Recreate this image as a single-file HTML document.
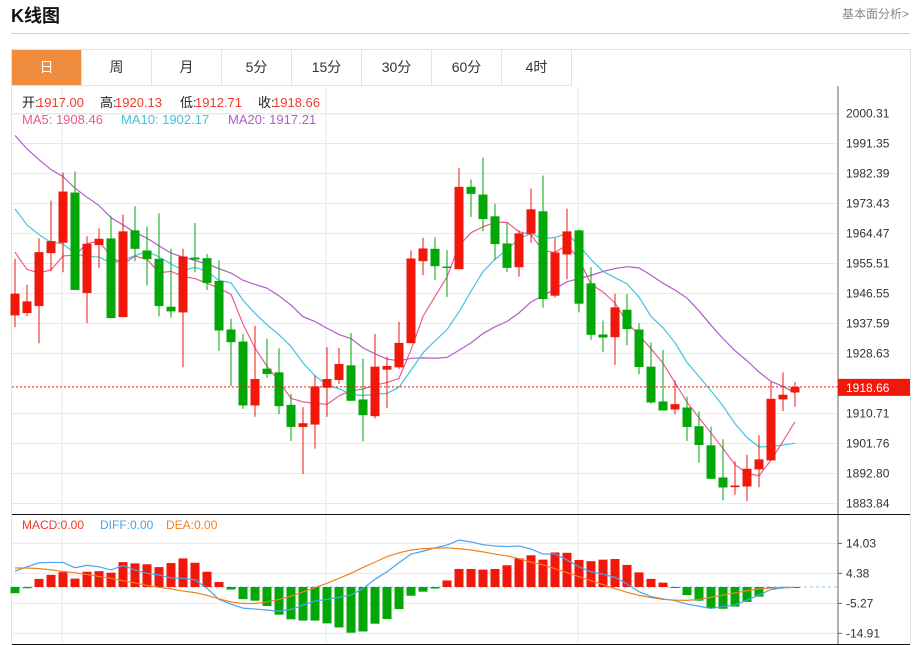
<!DOCTYPE html>
<html><head><meta charset="utf-8">
<style>
body{margin:0;width:917px;height:645px;background:#fff;overflow:hidden;font-family:"Liberation Sans","Noto Sans CJK SC",sans-serif;position:relative}
.title{position:absolute;left:11px;top:2px;font-size:18px;font-weight:bold;color:#111}
.more{position:absolute;right:8px;top:5px;font-size:12px;color:#888}
.hr{position:absolute;left:11px;top:33px;width:899px;height:1px;background:#d0d0d0}
.box{position:absolute;left:11px;top:49px;width:898px;height:595px;border:1px solid #dde3ea;border-bottom:none}
.tabs{position:absolute;left:12px;top:50px;height:35px;display:flex}
.tab{width:69px;height:35px;border-right:1px solid #dde3ea;border-bottom:1px solid #dde3ea;text-align:center;line-height:35px;font-size:14px;color:#333}
.tab.on{background:#f08c3e;color:#fff}
svg{position:absolute;left:0;top:0}
</style></head><body>
<div class="title">K线图</div>
<div class="more">基本面分析&gt;</div>
<div class="hr"></div>
<div class="box"></div>
<div class="tabs">
<div class="tab on">日</div>
<div class="tab">周</div>
<div class="tab">月</div>
<div class="tab">5分</div>
<div class="tab">15分</div>
<div class="tab">30分</div>
<div class="tab">60分</div>
<div class="tab">4时</div>
</div>
<svg id="c" width="917" height="645"></svg>
<script>
const opens=[1940.0,1940.7,1942.8,1958.6,1961.7,1976.7,1946.7,1961.0,1963.0,1939.5,1965.4,1959.4,1956.9,1942.6,1940.9,1957.3,1957.1,1950.3,1935.8,1932.2,1913.1,1924.1,1923.0,1913.3,1906.7,1907.4,1918.4,1920.7,1925.1,1914.9,1909.9,1923.8,1924.5,1931.7,1956.2,1959.9,1954.6,1953.8,1978.4,1976.1,1969.6,1961.5,1954.4,1964.4,1971.1,1945.9,1958.2,1965.4,1949.6,1934.3,1933.5,1941.7,1935.8,1924.7,1914.3,1911.9,1912.5,1906.9,1901.2,1891.6,1888.7,1888.9,1894.0,1896.7,1914.9,1917.0];
const highs=[1956.9,1949.2,1963.1,1974.3,1982.7,1983.0,1963.6,1966.0,1969.6,1970.1,1972.6,1966.6,1970.5,1959.9,1959.9,1967.6,1958.4,1956.4,1939.0,1934.5,1936.9,1933.0,1930.2,1916.6,1912.6,1922.1,1930.5,1930.3,1934.7,1927.1,1934.5,1927.7,1938.1,1959.4,1963.2,1963.3,1959.5,1984.1,1980.6,1987.1,1973.4,1967.6,1965.4,1977.9,1981.8,1963.1,1971.9,1965.7,1954.4,1938.5,1946.5,1946.4,1937.7,1931.9,1929.7,1920.6,1915.8,1911.3,1906.8,1903.0,1896.4,1898.4,1904.2,1920.1,1923.0,1920.13];
const lows=[1936.5,1939.8,1931.7,1953.2,1952.9,1947.6,1937.7,1954.1,1939.2,1939.5,1956.2,1948.9,1939.7,1939.3,1924.5,1952.9,1947.6,1929.4,1918.9,1912.1,1909.7,1921.3,1910.5,1902.5,1892.6,1900.2,1909.7,1919.5,1914.5,1902.3,1909.2,1912.3,1924.0,1931.7,1952.0,1950.6,1945.5,1953.8,1969.4,1965.1,1956.6,1953.0,1951.6,1961.7,1942.3,1945.3,1950.8,1940.9,1932.7,1929.1,1925.2,1931.1,1922.4,1913.6,1911.6,1910.4,1902.5,1896.0,1891.2,1884.7,1886.4,1884.5,1888.7,1896.7,1911.4,1912.71];
const closes=[1946.5,1944.2,1958.9,1962.2,1977.0,1947.6,1961.4,1962.9,1939.2,1965.1,1959.9,1956.8,1942.8,1941.2,1957.6,1956.7,1949.7,1935.5,1932.0,1913.1,1921.0,1922.5,1912.9,1906.7,1907.8,1918.8,1921.0,1925.5,1914.5,1910.2,1924.7,1924.9,1931.8,1957.0,1960.0,1954.7,1954.2,1978.4,1976.3,1968.8,1961.3,1954.2,1964.5,1971.7,1944.9,1958.8,1965.1,1943.5,1934.2,1933.4,1942.4,1935.9,1924.6,1914.0,1911.6,1913.5,1906.7,1901.3,1891.2,1888.6,1889.2,1894.2,1897.0,1915.1,1916.3,1918.66];
const priorCloses=[2025,2023,2021,2019,2017,2015,2013,2011,2009,2004,1992,1988,1985,1981,1977.5,1970,1964,1958,1956];
const macdBars=[-2.0,-0.4,2.6,3.9,4.8,2.7,4.9,5.1,4.6,8.0,7.6,7.3,6.4,7.7,9.2,7.8,4.9,1.6,-0.8,-3.9,-4.4,-6.1,-8.9,-10.4,-10.8,-10.8,-11.7,-13.0,-14.7,-14.3,-11.8,-10.3,-7.1,-2.8,-1.5,-0.5,2.1,5.8,5.8,5.6,5.8,7.0,9.2,10.2,8.8,11.1,11.0,8.7,8.3,8.8,9.0,7.1,4.7,2.6,1.4,-0.1,-2.6,-4.4,-6.9,-7.0,-6.3,-4.8,-3.1,-0.5,-0.1,0];
const diffVals=[5.1,6.5,7.8,7.9,7.9,6.2,7.0,6.5,5.5,6.9,5.5,4.4,3.9,2.9,2.8,2.3,-0.4,-4.0,-5.5,-6.8,-7.1,-7.4,-7.8,-7.2,-5.8,-4.5,-4.0,-3.3,-2.6,-0.5,2.5,4.9,7.8,10.6,11.5,12.6,13.5,15.1,14.5,13.6,13.2,13.0,13.2,12.2,10.6,10.6,8.7,6.5,4.9,4.1,3.1,1.0,-1.5,-3.1,-3.8,-4.4,-5.5,-6.2,-6.9,-6.3,-5.8,-4.2,-2.6,-0.8,-0.3,-0.1];
const deaVals=[6.1,6.1,5.9,5.5,5.0,4.6,4.0,3.4,2.8,2.0,1.3,0.5,-0.1,-0.6,-1.3,-1.8,-2.7,-3.8,-4.8,-5.3,-5.3,-4.8,-4.0,-2.9,-1.6,-0.2,1.2,2.8,4.4,6.3,8.0,9.8,11.0,11.9,12.3,12.5,12.6,12.3,11.9,11.3,10.6,10.0,9.1,8.0,7.1,5.9,4.6,3.3,2.0,0.8,-0.5,-1.7,-2.7,-3.4,-4.0,-4.2,-4.3,-4.0,-3.3,-2.6,-1.9,-1.2,-0.6,-0.3,-0.1,-0.1];
const priceTicks=[2000.31,1991.35,1982.39,1973.43,1964.47,1955.51,1946.55,1937.59,1928.63,1919.67,1910.71,1901.76,1892.80,1883.84];
const macdTicks=[14.03,4.38,-5.27,-14.91];

const svg=document.getElementById('c');
const NS='http://www.w3.org/2000/svg';
function mk(t,a,p){const e=document.createElementNS(NS,t);for(const k in a)e.setAttribute(k,a[k]);(p||svg).appendChild(e);return e;}
const X=i=>15+12*i;
const Y=p=>113.5+(2000.31-p)*3.348;
const MY=v=>587-v*3.109;
const RED='#f2170b',GREEN='#03a707';

const grid=mk('g',{});


priceTicks.forEach(t=>{if(t!==1919.67)mk('line',{x1:12,x2:838,y1:Y(t),y2:Y(t),stroke:'#e3eaf1'},grid);});
macdTicks.forEach(t=>mk('line',{x1:12,x2:838,y1:MY(t),y2:MY(t),stroke:'#e3eaf1'},grid));
mk('line',{x1:12,x2:838,y1:114,y2:114,stroke:'#e3eaf1'},grid);
[62,326,578].forEach(x=>mk('line',{x1:x,x2:x,y1:86,y2:644,stroke:'#e3eaf1'},grid));
mk('line',{x1:838,x2:838,y1:86,y2:644,stroke:'#666'});
mk('line',{x1:12,x2:910,y1:514.5,y2:514.5,stroke:'#111'});
mk('line',{x1:12,x2:910,y1:644.5,y2:644.5,stroke:'#111'});

priceTicks.forEach(t=>{if(t===1919.67)return;
 const tx=mk('text',{x:846,y:Y(t)+4,'font-size':12,fill:'#333'});
 
 
 tx.textContent=t.toFixed(2);});
macdTicks.forEach(t=>{
 const tx=mk('text',{x:846,y:MY(t)+4,'font-size':12,fill:'#333'});
 
 
 tx.textContent=t.toFixed(2);
 mk('line',{x1:838,x2:842,y1:MY(t),y2:MY(t),stroke:'#666'});});

function ma(n){const all=priorCloses.concat(closes);return closes.map((c,i)=>{const j=i+priorCloses.length;let s=0;for(let k=j-n+1;k<=j;k++)s+=all[k];return s/n;});}
[[20,'#b15ccb'],[10,'#3ec6da'],[5,'#ef5a8c']].forEach(([n,col])=>{
 const v=ma(n);const l=mk('polyline',{points:v.map((p,i)=>X(i)+','+Y(p)).join(' '),fill:'none',stroke:col,'stroke-width':1.2});
 
 });

closes.forEach((c,i)=>{const o=opens[i],up=c>=o,col=up?RED:GREEN;
 const g=mk('g',{});
 
 
 mk('line',{x1:X(i),x2:X(i),y1:Y(highs[i]),y2:Y(lows[i]),stroke:col,'stroke-width':1},g);
 const t=Y(Math.max(o,c)),b=Y(Math.min(o,c));
 mk('rect',{x:X(i)-4.5,y:t,width:9,height:Math.max(1.5,b-t),fill:col},g);});

const last=closes[closes.length-1];
mk('line',{x1:12,x2:838,y1:Y(last),y2:Y(last),stroke:RED,'stroke-dasharray':'2,2'});
const tag=mk('rect',{x:838,y:Y(last)-8,width:72,height:17,fill:RED});


const tt=mk('text',{x:846,y:Y(last)+5,'font-size':12,fill:'#fff'});


tt.textContent=last.toFixed(2);

mk('line',{x1:12,x2:838,y1:MY(0),y2:MY(0),stroke:'#8cc8ee','stroke-dasharray':'3,3'});
macdBars.forEach((v,i)=>{const r=mk('rect',{x:X(i)-4.5,y:Math.min(MY(v),MY(0)),width:9,height:Math.max(1,Math.abs(MY(v)-MY(0))),fill:v>=0?RED:GREEN});
 
 });
const dl=mk('polyline',{points:diffVals.map((v,i)=>X(i)+','+MY(v)).join(' '),fill:'none',stroke:'#4aa3ea','stroke-width':1.2});


const el=mk('polyline',{points:deaVals.map((v,i)=>X(i)+','+MY(v)).join(' '),fill:'none',stroke:'#f2821f','stroke-width':1.2});



function txt(x,y,s,col,size,name){const t=mk('text',{x:x,y:y,'font-size':size,fill:col});t.textContent=s;return t;}
const ohlc=[['开:',1917.00,22],['高:',1920.13,100],['低:',1912.71,180],['收:',1918.66,258]];
ohlc.forEach(([k,v,x])=>{txt(x,107,k,'#222',13,'ohlc-label');txt(x+15,107,v.toFixed(2),'#f03a2a',13,'ohlc-value');});
txt(22,124,'MA5: 1908.46','#ef5a8c',13,'legend-ma5');
txt(121,124,'MA10: 1902.17','#3ec6da',13,'legend-ma10');
txt(228,124,'MA20: 1917.21','#b15ccb',13,'legend-ma20');
txt(22,529,'MACD:0.00','#ee3b2b',12,'legend-macd');
txt(100,529,'DIFF:0.00','#4aa3ea',12,'legend-diff');
txt(166,529,'DEA:0.00','#f2821f',12,'legend-dea');
</script>
</body></html>
